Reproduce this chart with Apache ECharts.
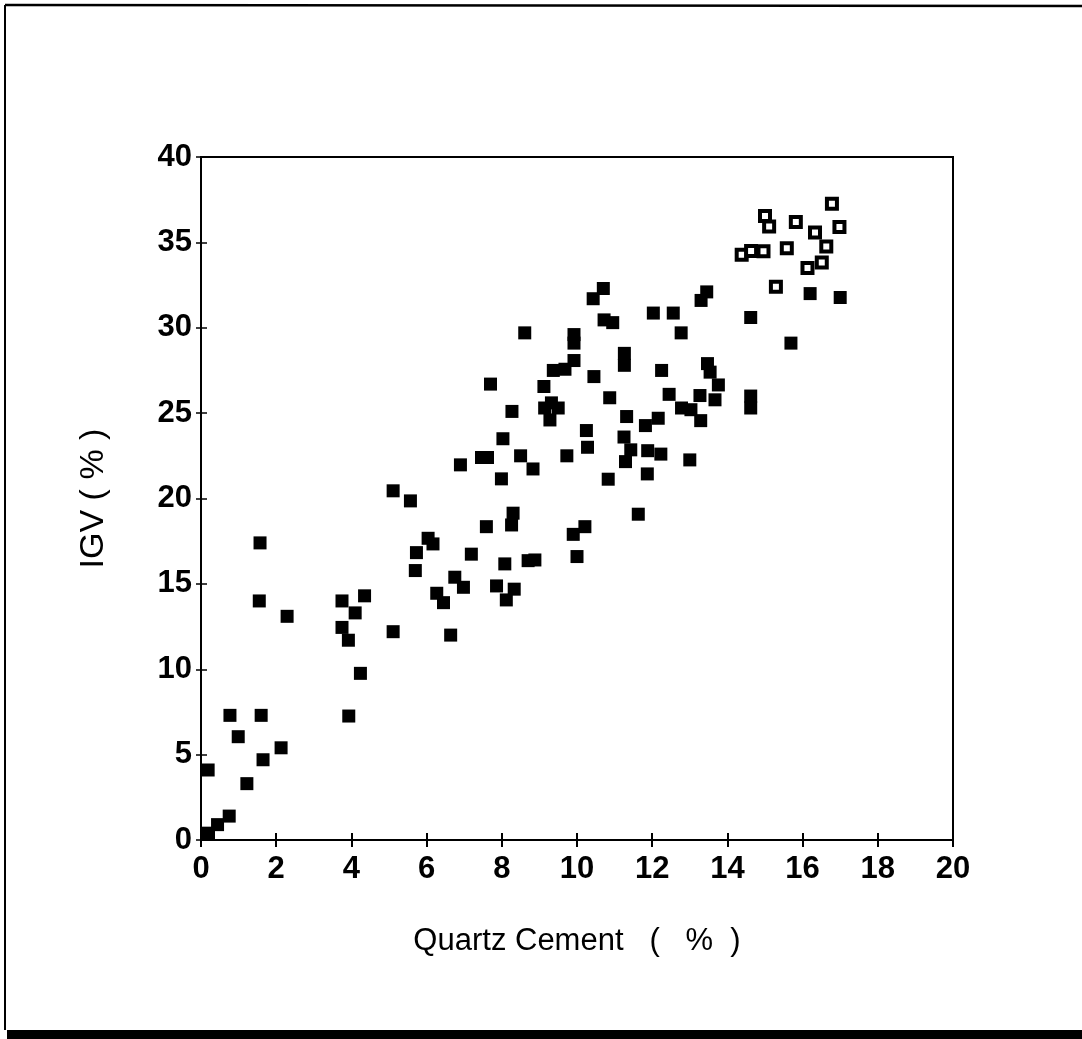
<!DOCTYPE html>
<html>
<head>
<meta charset="utf-8">
<title>IGV vs Quartz Cement</title>
<script src="https://cdn.jsdelivr.net/npm/echarts@6/dist/echarts.min.js"></script>
<style>
  html, body { margin: 0; padding: 0; background: #fff; }
  #chart { width: 1082px; height: 1039px; }
</style>
</head>
<body>
<div id="chart"></div>
<script>
// filled squares
const filledX = [0.2, 0.44, 0.75, 0.19, 1.22, 0.77, 0.99, 1.6, 1.65, 2.13, 1.57, 1.55, 2.29,
  3.75, 3.75, 3.92, 4.1, 4.35, 4.24, 3.93,
  5.11, 5.57, 5.11, 6.04, 6.17, 5.73, 5.7, 6.27, 6.45, 6.64, 6.75, 6.98,
  7.19, 7.59, 7.86, 8.12, 8.33, 8.08, 8.7, 8.88, 8.3, 8.26,
  6.9, 7.46, 7.62, 7.99, 8.03, 8.5, 8.83, 7.7, 8.27, 8.61,
  9.12, 9.32, 9.14, 9.5, 9.28, 9.37, 9.68, 9.92, 9.92, 9.92, 9.73,
  9.9, 10.0, 10.21, 10.25, 10.28, 10.45, 10.43, 10.7, 10.72, 10.95, 10.87, 10.83,
  11.26, 11.26, 11.32, 11.25, 11.43, 11.29, 11.63, 11.82, 11.88, 11.87,
  12.03, 12.56, 12.77, 12.25, 12.45, 12.16, 12.23, 12.78, 13.03, 13.0,
  13.27, 13.29, 13.3, 13.45, 13.47, 13.54, 13.76, 13.67,
  14.62, 14.62, 14.62, 15.69, 16.2, 17.0]
const filledY = [0.4, 0.9, 1.4, 4.1, 3.3, 7.3, 6.05, 7.3, 4.7, 5.4, 17.4, 14.0, 13.1,
  14.0, 12.45, 11.7, 13.3, 14.3, 9.76, 7.26,
  20.45, 19.86, 12.2, 17.67, 17.34, 16.83, 15.78, 14.45, 13.9, 12.0, 15.39, 14.8,
  16.74, 18.35, 14.88, 14.06, 14.69, 16.17, 16.36, 16.4, 19.14, 18.45,
  21.97, 22.4, 22.4, 21.15, 23.5, 22.5, 21.73, 26.7, 25.1, 29.7,
  26.56, 25.6, 25.3, 25.3, 24.6, 27.5, 27.57, 29.6, 29.1, 28.08, 22.5,
  17.9, 16.6, 18.35, 23.98, 23.0, 27.14, 31.7, 32.3, 30.46, 30.3, 25.9, 21.13,
  28.5, 27.8, 24.8, 23.6, 22.85, 22.16, 19.08, 24.27, 22.8, 21.44,
  30.86, 30.86, 29.7, 27.5, 26.1, 24.7, 22.6, 25.3, 25.2, 22.26,
  26.03, 24.56, 31.6, 32.1, 27.9, 27.4, 26.65, 25.78,
  30.6, 26.0, 25.3, 29.1, 32.0, 31.77]

// open squares
const openX = [16.78, 15.0, 15.11, 15.82, 16.33, 16.98, 16.63, 16.51, 16.13, 15.58, 14.38, 14.63, 14.96, 15.29]
const openY = [37.26, 36.55, 35.93, 36.2, 35.58, 35.9, 34.76, 33.82, 33.5, 34.66, 34.27, 34.5, 34.48, 32.4]

const xTicks = [0, 2, 4, 6, 8, 10, 12, 14, 16, 18, 20]
const yTicks = [0, 5, 10, 15, 20, 25, 30, 35, 40]

const labelFont = {
  fontFamily: '"Liberation Sans Narrow", "Liberation Sans", Arial, sans-serif',
  fontWeight: 'bold',
  fontSize: 31,
  color: '#000'
}

const pairs = (xs, ys) => xs.map((x, i) => [x, ys[i]])

const chart = echarts.init(document.getElementById('chart'))

const option = {
  backgroundColor: '#fff',
  animation: false,
  grid: {
    left: 201,
    right: 129,
    top: 157,
    bottom: 199,
    show: true,
    borderColor: '#000',
    borderWidth: 2,
    backgroundColor: 'transparent'
  },
  xAxis: [
    {
      type: 'value',
      min: xTicks[0],
      max: xTicks[xTicks.length - 1],
      interval: 2,
      name: 'Quartz Cement   (   %  )',
      nameLocation: 'middle',
      nameGap: 86,
      nameTextStyle: { fontFamily: '"Liberation Sans", Arial, sans-serif', fontSize: 31, color: '#000' },
      axisLine: { show: true, lineStyle: { color: '#000', width: 2 } },
      axisTick: { show: true, length: 7, lineStyle: { color: '#000', width: 2 } },
      axisLabel: Object.assign({ margin: 14 }, labelFont),
      splitLine: { show: false }
    },
    {
      // inner half of the crossing ticks
      type: 'value',
      position: 'bottom',
      offset: 0,
      min: xTicks[0],
      max: xTicks[xTicks.length - 1],
      interval: 2,
      axisLine: { show: false },
      axisTick: { show: true, inside: true, length: 7, lineStyle: { color: '#000', width: 2 } },
      axisLabel: { show: false },
      splitLine: { show: false }
    }
  ],
  yAxis: [
    {
      type: 'value',
      min: yTicks[0],
      max: yTicks[yTicks.length - 1],
      interval: 5,
      name: 'IGV ( % )',
      nameLocation: 'middle',
      nameGap: 90,
      nameTextStyle: { fontFamily: '"Liberation Sans", Arial, sans-serif', fontSize: 34, color: '#000' },
      axisLine: { show: true, lineStyle: { color: '#000', width: 2 } },
      axisTick: { show: true, length: 5, lineStyle: { color: '#000', width: 1.5 } },
      axisLabel: Object.assign({ margin: 9 }, labelFont),
      splitLine: { show: false }
    },
    {
      type: 'value',
      position: 'left',
      offset: 0,
      min: yTicks[0],
      max: yTicks[yTicks.length - 1],
      interval: 5,
      axisLine: { show: false },
      axisTick: { show: true, inside: true, length: 6, lineStyle: { color: '#000', width: 1.5 } },
      axisLabel: { show: false },
      splitLine: { show: false }
    }
  ],
  series: [
    {
      type: 'scatter',
      symbol: 'rect',
      symbolSize: 13,
      itemStyle: { color: '#000', opacity: 1 },
      data: pairs(filledX, filledY)
    },
    {
      type: 'scatter',
      symbol: 'rect',
      symbolSize: 10,
      itemStyle: { color: '#fff', borderColor: '#000', borderWidth: 4, opacity: 1 },
      data: pairs(openX, openY)
    }
  ],
  graphic: [
    // page frame
    { type: 'line', shape: { x1: 5, y1: 5, x2: 5, y2: 1030 }, style: { stroke: '#000', lineWidth: 2 } },
    { type: 'line', shape: { x1: 5, y1: 5, x2: 1082, y2: 6 }, style: { stroke: '#000', lineWidth: 2.5 } },
    { type: 'rect', shape: { x: 7, y: 1030, width: 1075, height: 9 }, style: { fill: '#000' } }
  ]
}

chart.setOption(option)
</script>
</body>
</html>
